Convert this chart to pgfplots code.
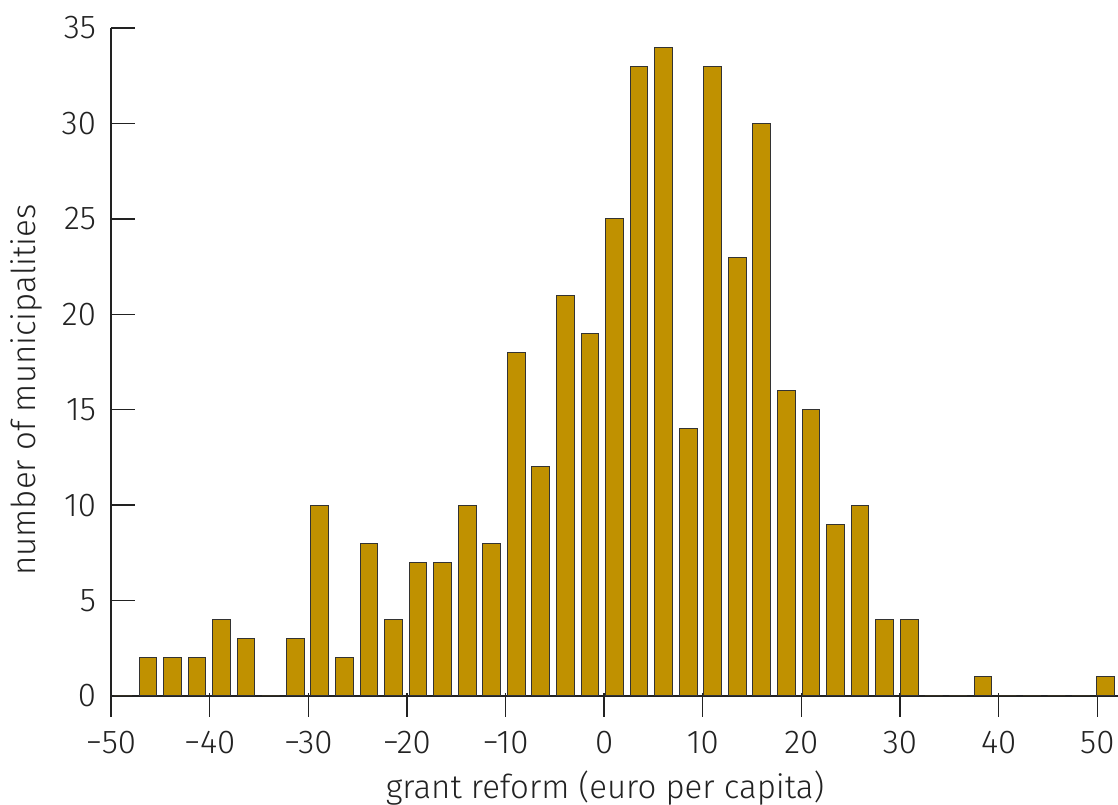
\documentclass[border=0pt]{standalone}
\usepackage{fontspec}
\setmainfont{Fira Sans Light}
\usepackage{pgfplots}
\pgfplotsset{compat=1.18}
\definecolor{barc}{RGB}{192,145,0}
\definecolor{txt}{RGB}{34,34,34}
\begin{document}
\begin{tikzpicture}
\begin{axis}[
  name=ax,
  scale only axis, width=503.5pt, height=334pt,
  xmin=-50, xmax=52.1, ymin=0, ymax=35,
  axis lines=left,
  axis line style={-, line width=0.7pt, color=txt},
  tick align=inside, major tick length=12pt,
  tick style={line width=0.7pt, color=txt},
  xtick={-50,-40,...,50},
  xticklabels={−50,−40,−30,−20,−10,0,10,20,30,40,50},
  ytick={0,5,...,35},
  xtick style={yshift=-10.5pt},
  font=\fontsize{16.5}{19}\selectfont,
  /pgf/number format/assume math mode=true,
  ticklabel style={text=txt},
  xticklabel style={yshift=-14pt},
  yticklabel style={xshift=-4pt},
  xlabel={grant reform (euro per capita)},
  ylabel={number of municipalities},
  xlabel style={at={(axis description cs:0.4906,-0.138)}, anchor=center, text=txt},
  ylabel style={at={(axis description cs:-0.0844,0.458)}, anchor=center, text=txt},
  clip=false,
]
\addplot[ybar, bar width=1.8, fill=barc, draw=black!80, line width=0.5pt] coordinates {
(-48.75,0) (-46.26,2) (-43.77,2) (-41.28,2) (-38.79,4) (-36.30,3) (-33.81,0) (-31.32,3)
(-28.83,10) (-26.34,2) (-23.85,8) (-21.36,4) (-18.87,7) (-16.38,7) (-13.89,10) (-11.40,8)
(-8.91,18) (-6.42,12) (-3.93,21) (-1.44,19) (1.05,25) (3.54,33) (6.03,34) (8.52,14)
(11.01,33) (13.50,23) (15.99,30) (18.48,16) (20.97,15) (23.46,9) (25.95,10) (28.44,4)
(30.93,4) (33.42,0) (35.91,0) (38.40,1) (40.89,0) (43.38,0) (45.87,0) (48.36,0) (50.85,1)
};
\end{axis}
\pgfresetboundingbox
\path ([xshift=-55.5pt,yshift=-54.5pt]ax.south west) rectangle ([yshift=14pt]ax.north east);
\end{tikzpicture}
\end{document}
